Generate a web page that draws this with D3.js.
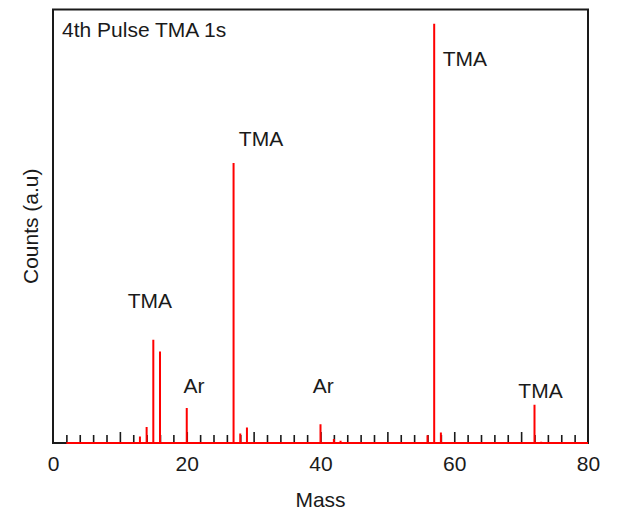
<!DOCTYPE html>
<html>
<head>
<meta charset="utf-8">
<script src="https://cdn.jsdelivr.net/npm/d3@7"></script>
<style>
  html, body { margin: 0; padding: 0; background: #fff; }
  text { font-family: "Liberation Sans", Arial, sans-serif; fill: #1a1a1a; }
</style>
</head>
<body>
<div id="chart"></div>
<script>
// ---- data ----
const massDomain = [0, 80];
const spectrumStart = 2;     // spectrum trace starts at mass 2
const spectrumEnd = 80;
const peakMass   = [13, 14, 15, 16, 20, 27, 28, 29, 40, 42, 43, 56, 57, 58, 72, 73];
const peakCounts = [1.5, 3.7, 23.8, 21.1, 8.1, 64.6, 2.2, 3.6, 4.3, 0.9, 0.5, 1.8, 96.7, 2.4, 8.8, 0.3];
const countsMax = 100;
const xLabelTicks = [0, 20, 40, 60, 80];
const title = "4th Pulse TMA 1s";
const xTitle = "Mass";
const yTitle = "Counts (a.u)";
const annotLabels = ["TMA", "Ar", "TMA", "Ar", "TMA", "TMA"];
const annotMass   = [14.5, 21.1, 31.1, 40.4, 61.6, 72.9];
const annotCounts = [31.1, 11.5, 68.6, 11.5, 87.0, 10.4];

// ---- layout ----
const W = 617, H = 513;
const L = 53, R = 588, T = 9.5, B = 443;
const FS = 21;

const svg = d3.select("#chart").append("svg").attr("width", W).attr("height", H);

const x = d3.scaleLinear().domain(massDomain).range([L, R]);
const y = d3.scaleLinear().domain([0, countsMax]).range([B, T]);

// minor ticks (inward)
const minorVals = d3.range(2, 80, 2).filter(v => v % 10 !== 0);
const majorVals = d3.range(10, 80, 10);
svg.append("g").attr("transform", `translate(0,${B})`)
  .call(d3.axisBottom(x).tickValues(minorVals).tickSize(-8).tickFormat(""))
  .call(g => g.select(".domain").remove())
  .call(g => g.selectAll(".tick line").attr("stroke", "#1a1a1a").attr("stroke-width", 1.6));
svg.append("g").attr("transform", `translate(0,${B})`)
  .call(d3.axisBottom(x).tickValues(majorVals).tickSize(-11).tickFormat(""))
  .call(g => g.select(".domain").remove())
  .call(g => g.selectAll(".tick line").attr("stroke", "#1a1a1a").attr("stroke-width", 1.6));

// labels
svg.append("g").attr("transform", `translate(0,${B})`)
  .call(d3.axisBottom(x).tickValues(xLabelTicks).tickSize(0).tickPadding(13).tickFormat(d3.format("d")))
  .call(g => g.select(".domain").remove())
  .call(g => g.selectAll(".tick text").attr("font-size", FS).attr("fill", "#1a1a1a")
        .style("font-family", "'Liberation Sans', Arial, sans-serif"));

// frame
svg.append("rect").attr("x", L).attr("y", T).attr("width", R - L).attr("height", B - T)
  .attr("fill", "none").attr("stroke", "#1a1a1a").attr("stroke-width", 2);

// spectrum trace
const pts = [[spectrumStart, 0]];
peakMass.forEach((m, i) => { pts.push([m, 0], [m, peakCounts[i]], [m, 0]); });
pts.push([spectrumEnd, 0]);
svg.append("path")
  .attr("d", d3.line().x(d => x(d[0])).y(d => y(d[1]))(pts))
  .attr("fill", "none").attr("stroke", "#ff0000").attr("stroke-width", 2);

// annotations
svg.append("g").selectAll("text").data(annotLabels).join("text")
  .attr("x", (d, i) => x(annotMass[i]))
  .attr("y", (d, i) => y(annotCounts[i]))
  .attr("text-anchor", "middle")
  .attr("font-size", FS)
  .text(d => d);

// title
svg.append("text").attr("x", 62).attr("y", 37).attr("font-size", FS).text(title);

// axis titles
svg.append("text").attr("x", (L + R) / 2).attr("y", 507).attr("text-anchor", "middle")
  .attr("font-size", FS).text(xTitle);
svg.append("text").attr("transform", `translate(38,${(T + B) / 2}) rotate(-90)`)
  .attr("text-anchor", "middle").attr("font-size", FS).text(yTitle);
</script>
</body>
</html>
